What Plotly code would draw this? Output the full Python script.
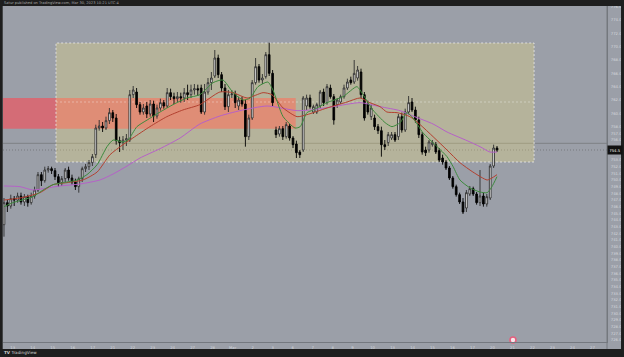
import plotly.graph_objects as go

# ---------------- data ----------------
opens = [743.3, 746.6, 746.1, 747.2, 747.0, 747.6, 746.7, 747.5, 746.6, 747.6,
         748.5, 750.8, 749.9, 751.5, 751.7, 751.4, 750.5, 749.6, 750.2, 751.5,
         750.3, 749.7, 749.0, 750.2, 751.7, 752.0, 752.6, 753.8, 757.8, 758.1,
         757.8, 758.9, 760.1, 759.3, 755.9, 755.6, 756.0, 756.0, 762.8, 763.2,
         761.3, 760.2, 761.1, 759.9, 761.4, 759.6, 760.8, 761.6, 761.1, 763.1,
         762.5, 762.2, 762.5, 762.3, 763.1, 762.8, 763.5, 763.7, 763.8, 760.2,
         763.2, 764.6, 765.6, 768.3, 765.8, 763.8, 761.0, 762.8, 762.9, 761.1,
         762.0, 761.4, 756.5, 759.3, 764.6, 767.0, 765.0, 765.5, 768.8, 766.0,
         757.5, 756.9, 757.7, 756.5, 758.1, 756.3, 755.4, 754.2, 754.5, 761.1,
         762.3, 760.2, 760.2, 761.1, 763.2, 761.6, 763.8, 762.5, 761.3, 761.7,
         762.5, 763.8, 765.0, 764.7, 765.3, 766.2, 762.8, 761.4, 759.5, 759.3,
         758.0, 757.4, 755.3, 755.6, 756.3, 756.8, 756.5, 759.5, 757.5, 760.2,
         761.7, 760.5, 759.0, 756.8, 754.5, 754.5, 755.3, 755.3, 754.4, 753.3,
         752.7, 751.8, 750.3, 749.0, 747.8, 746.7, 745.8, 747.9, 748.7, 747.9,
         746.6, 747.6, 746.4, 747.3, 752.1, 754.8]
highs = [747.3, 747.0, 747.8, 747.6, 748.1, 748.1, 747.9, 747.8, 748.1, 749.0,
         751.2, 751.2, 752.0, 752.1, 752.0, 751.8, 750.9, 750.6, 751.8, 752.0,
         750.8, 750.2, 750.5, 752.0, 752.4, 753.0, 753.9, 758.3, 759.0, 758.7,
         759.5, 760.8, 760.5, 759.9, 756.5, 756.6, 756.9, 763.5, 764.1, 763.8,
         761.7, 761.4, 761.7, 762.0, 761.9, 761.3, 762.2, 762.0, 763.8, 763.7,
         763.1, 763.2, 763.1, 763.8, 764.3, 764.3, 764.4, 764.3, 764.3, 764.4,
         765.3, 766.2, 769.5, 768.8, 766.2, 764.4, 763.5, 763.5, 763.4, 762.5,
         762.5, 762.0, 759.8, 765.0, 768.3, 767.4, 765.9, 769.2, 770.6, 766.5,
         758.0, 758.1, 758.1, 758.7, 758.4, 756.6, 755.9, 754.5, 762.6, 762.8,
         762.8, 761.3, 761.6, 763.5, 763.7, 764.4, 764.3, 762.9, 762.3, 762.8,
         764.3, 765.2, 765.5, 768.0, 767.1, 766.7, 763.2, 761.9, 761.3, 759.8,
         758.4, 758.0, 756.0, 757.2, 757.2, 757.2, 759.9, 760.1, 760.7, 762.6,
         762.3, 761.0, 759.5, 757.2, 755.0, 756.0, 756.0, 755.7, 754.8, 753.8,
         753.0, 752.1, 750.6, 749.3, 748.1, 747.3, 748.5, 749.1, 749.0, 748.2,
         751.5, 748.1, 747.9, 752.4, 755.3, 755.1]
lows = [741.5, 745.2, 745.7, 746.1, 746.6, 746.3, 746.1, 746.0, 746.3, 747.2,
        748.2, 749.1, 749.6, 751.1, 750.9, 750.0, 749.0, 749.1, 749.7, 749.9,
        749.3, 748.5, 748.1, 749.7, 751.2, 751.5, 752.1, 753.3, 757.4, 757.2,
        757.5, 758.4, 758.7, 755.3, 754.2, 754.5, 755.1, 755.7, 762.3, 760.8,
        759.8, 759.8, 759.3, 759.5, 758.7, 759.2, 760.4, 760.7, 760.8, 762.0,
        761.4, 761.7, 761.6, 761.7, 762.0, 762.3, 762.8, 762.6, 759.9, 759.8,
        762.8, 763.5, 765.3, 765.3, 763.2, 760.5, 760.2, 762.3, 760.8, 760.5,
        761.0, 755.0, 756.0, 759.0, 764.3, 764.6, 764.4, 765.2, 765.6, 761.1,
        756.3, 756.5, 756.0, 756.2, 755.9, 754.8, 753.3, 753.3, 754.2, 760.5,
        760.7, 759.9, 759.9, 760.8, 761.1, 761.3, 762.2, 758.3, 760.8, 761.4,
        762.2, 763.5, 764.3, 764.4, 764.9, 762.3, 758.9, 759.8, 759.0, 757.5,
        756.9, 753.5, 754.5, 755.1, 756.0, 755.7, 756.0, 757.1, 757.2, 759.8,
        760.2, 758.6, 756.3, 753.8, 753.6, 754.1, 755.0, 753.9, 752.7, 752.3,
        751.5, 750.0, 748.7, 747.5, 746.4, 744.9, 745.2, 747.6, 747.6, 746.3,
        746.1, 746.0, 746.0, 747.0, 751.8, 754.2]
closes = [746.6, 746.1, 747.2, 747.0, 747.6, 746.7, 747.5, 746.6, 747.6, 748.5,
          750.8, 749.9, 751.5, 751.7, 751.4, 750.5, 749.6, 750.2, 751.5, 750.3,
          749.7, 749.0, 750.2, 751.7, 752.0, 752.6, 753.5, 757.8, 758.1, 757.8,
          758.9, 760.1, 759.3, 755.9, 755.6, 756.0, 756.2, 762.8, 763.5, 761.3,
          760.2, 760.8, 759.9, 761.4, 759.6, 760.8, 761.6, 761.1, 763.1, 762.5,
          762.2, 762.5, 762.3, 763.1, 762.8, 763.5, 763.7, 763.5, 760.2, 763.2,
          764.6, 765.3, 768.3, 765.8, 763.8, 761.0, 762.8, 762.9, 761.6, 762.0,
          761.4, 756.5, 759.3, 764.6, 767.0, 765.0, 765.3, 768.8, 766.0, 761.6,
          756.8, 757.7, 756.5, 758.3, 756.3, 755.3, 754.1, 753.8, 762.3, 762.3,
          761.0, 761.0, 761.3, 763.2, 761.6, 764.0, 762.5, 759.0, 762.0, 762.5,
          763.8, 764.7, 764.6, 766.0, 766.5, 762.8, 759.3, 760.2, 760.8, 758.0,
          757.4, 755.3, 755.0, 756.8, 756.8, 756.0, 759.5, 757.5, 760.2, 761.6,
          760.5, 759.0, 756.8, 754.2, 754.1, 755.7, 755.6, 754.2, 753.0, 752.7,
          751.8, 750.3, 749.0, 747.8, 746.7, 745.2, 748.1, 748.7, 747.9, 746.6,
          747.6, 746.4, 747.5, 752.1, 754.8, 754.5]
bars = list(range(len(closes)))

# moving averages (bar index, price)
fast_ma_bar = [0, 2.6, 8.5, 11.5, 14.4, 17.4, 21.5, 24.4, 27.4, 30.3, 32.1, 35.0, 36.5,
               39.1, 42.1, 45.9, 49.7, 53.8, 57.6, 61.5, 64.4, 67.4, 70.3, 72.4, 74.7,
               77.6, 79.1, 82.1, 85.6, 87.1, 89.1, 90.9, 95.0, 99.7, 103.8, 105.6,
               108.5, 112.1, 114.1, 116.5, 118.5, 120.3, 123.2, 127.4, 130.3, 132.1,
               134.1, 137.1, 140.0, 142.1, 143.5, 145.0]
fast_ma = [746.0, 746.6, 747.5, 748.5, 749.3, 749.6, 750.0, 750.8, 752.3, 755.0, 756.0,
           755.7, 756.0, 758.0, 759.0, 760.2, 761.3, 762.3, 762.8, 764.6, 765.0, 763.1,
           762.0, 762.3, 764.0, 764.7, 763.5, 759.5, 757.8, 758.0, 760.1, 760.5, 761.6,
           762.5, 764.0, 762.8, 760.5, 758.6, 758.0, 758.6, 760.1, 759.3, 757.1, 755.0,
           753.5, 752.0, 750.0, 748.8, 748.2, 748.1, 749.0, 750.5]
mid_ma_bar = [0, 4.7, 10.6, 14.4, 18.5, 23.2, 27.4, 31.2, 35.0, 37.9, 42.9, 47.9, 52.6,
              57.6, 63.5, 67.4, 71.5, 76.2, 78.8, 82.1, 86.2, 89.1, 95.0, 100.9, 104.7,
              107.6, 110.6, 112.6, 115.6, 119.4, 122.4, 126.2, 130.3, 134.1, 137.9,
              142.1, 143.5, 145.0]
mid_ma = [747.0, 747.3, 748.1, 749.3, 749.6, 750.0, 751.2, 753.8, 755.3, 756.3, 758.0,
          759.5, 760.5, 761.3, 763.2, 763.1, 762.3, 763.1, 762.8, 760.8, 759.5, 759.8,
          760.8, 761.7, 762.3, 761.6, 761.0, 760.2, 760.1, 759.5, 758.3, 756.5, 754.5,
          752.6, 751.2, 750.0, 750.3, 750.8]
slow_ma_bar = [0, 4.7, 8.5, 12.6, 16.5, 22.4, 28.2, 32.1, 36.2, 40.0, 45.9, 51.8, 57.6,
               63.5, 69.4, 77.4, 86.2, 90.0, 96.8, 104.7, 110.6, 116.5, 120.3, 126.2,
               130.3, 136.2, 140.0, 142.9, 145.0]
slow_ma = [749.1, 749.0, 748.5, 748.8, 749.1, 749.4, 750.0, 750.9, 752.1, 753.3, 754.7,
           756.3, 758.4, 759.6, 760.4, 761.1, 760.4, 760.5, 761.0, 761.6, 761.0, 760.4,
           759.6, 758.4, 757.2, 755.9, 755.0, 754.2, 754.2]

# drawings (levels / bar spans)
range_box_start, range_box_end = 15.3, 155.9
range_box_top, range_box_bottom = 770.55, 752.7
zone_end, zone_top, zone_bottom = 85.8, 762.3, 757.7
box_mid_level = 761.7
flat_level = 755.5
event_bar = [149.7]
event_price = [726.0]

price_ticks = [776, 774, 772, 770, 768, 766, 764, 762, 760, 758, 757, 756,
               753, 752, 751, 750, 749, 748, 747, 746, 745, 744, 743, 742, 741,
               740, 739, 738, 737, 736, 735, 734, 733, 732, 731, 730, 729, 728, 727, 726]
day_labels = ["13", "14", "15", "16", "17", "21", "22", "23", "24", "27", "28", "Mar",
              "2", "3", "6", "7", "8", "9", "10", "13", "14", "15", "16", "17",
              "20", "21", "22", "23", "24", "27"]
first_day_bar = 2.56
bars_per_day = 5.88

header = "Satur published on TradingView.com, Mar 30, 2023 10:21 UTC-4"

# ---------------- styling ----------------
BG = "#9b9fa8"
DARK = "#1e1e1e"
AXIS_LINE = "#74787f"
TXT = "#d6d9de"
FONT = "DejaVu Sans"
x_range = [-0.29, 177.35]
y_range = [725.7, 776.1]

fig = go.Figure()

for bx, vals, col in [(slow_ma_bar, slow_ma, "#b660c8"),
                      (mid_ma_bar, mid_ma, "#b3402f"),
                      (fast_ma_bar, fast_ma, "#3c8a3c")]:
    fig.add_trace(go.Scatter(x=bx, y=vals, mode="lines",
                             line=dict(color=col, width=1, shape="spline", smoothing=0.6),
                             hoverinfo="skip", showlegend=False))

fig.add_trace(go.Candlestick(
    x=bars, open=opens, high=highs, low=lows, close=closes,
    increasing=dict(fillcolor="#ffffff", line=dict(color="#2e2e2e", width=0.9)),
    decreasing=dict(fillcolor="#000000", line=dict(color="#000000", width=0.9)),
    whiskerwidth=0, hoverinfo="skip", showlegend=False))

fig.add_trace(go.Scatter(x=event_bar, y=event_price, mode="markers",
                         marker=dict(size=6, color="#f4e6ea",
                                     line=dict(color="#e3607e", width=1.6)),
                         cliponaxis=False, hoverinfo="skip", showlegend=False))

shapes = [
    dict(type="rect", xref="x", yref="y", x0=x_range[0], x1=zone_end,
         y0=zone_bottom, y1=zone_top, fillcolor="rgba(255,70,81,0.57)",
         line=dict(width=0), layer="below"),
    dict(type="rect", xref="x", yref="y", x0=range_box_start, x1=range_box_end,
         y0=range_box_bottom, y1=range_box_top, fillcolor="rgba(255,236,121,0.26)",
         line=dict(color="rgba(230,230,230,0.85)", width=1, dash="2px,2px"), layer="below"),
    dict(type="line", xref="x", yref="y", x0=range_box_start, x1=range_box_end,
         y0=box_mid_level, y1=box_mid_level,
         line=dict(color="rgba(255,255,255,0.35)", width=1, dash="2px,2px"), layer="below"),
    dict(type="line", xref="paper", yref="y", x0=0, x1=1, y0=flat_level, y1=flat_level,
         line=dict(color="rgba(100,100,100,0.5)", width=1), layer="below"),
    dict(type="line", xref="paper", yref="y", x0=0, x1=1, y0=closes[-1], y1=closes[-1],
         line=dict(color="rgba(85,85,85,0.5)", width=1, dash="1px,2px"), layer="below"),
    # frame
    dict(type="line", xref="paper", yref="paper", x0=1, x1=1, y0=1, y1=-0.0208,
         line=dict(color=AXIS_LINE, width=1)),
    dict(type="rect", xref="paper", yref="paper", x0=-0.02, x1=1.05, y0=1.0, y1=1.06,
         fillcolor=DARK, line=dict(width=0)),
    dict(type="rect", xref="paper", yref="paper", x0=-0.02, x1=1.05, y0=-0.0208, y1=-0.07,
         fillcolor=DARK, line=dict(width=0)),
    dict(type="rect", xref="paper", yref="paper", x0=-0.02, x1=-0.0005, y0=-0.07, y1=1.06,
         fillcolor=DARK, line=dict(width=0)),
    dict(type="rect", xref="paper", yref="paper", x0=1.0232, x1=1.05, y0=-0.07, y1=1.06,
         fillcolor=DARK, line=dict(width=0)),
]

annotations = [
    dict(xref="paper", yref="paper", x=-0.0017, y=1.0089, xanchor="left", yanchor="middle",
         text=header, showarrow=False, font=dict(size=3.6, color="#a4a4a4", family=FONT)),
    dict(xref="paper", yref="paper", x=-0.0017, y=-0.0312, xanchor="left", yanchor="middle",
         text="<b>TV</b> TradingView", showarrow=False,
         font=dict(size=4.2, color="#d2d2d2", family=FONT)),
    dict(xref="paper", yref="y", x=1.0, y=closes[-1], xanchor="left", yanchor="middle",
         text=f"{closes[-1]:.1f}", showarrow=False, bgcolor="#111111", borderpad=1.5,
         width=11, font=dict(size=3.8, color="#ffffff", family=FONT)),
]

tick_bars = [first_day_bar + bars_per_day * k for k in range(len(day_labels))]

fig.update_layout(
    width=624, height=357,
    margin=dict(l=3, r=17, t=6, b=15),
    paper_bgcolor=BG, plot_bgcolor=BG,
    font=dict(family=FONT, size=3.8, color=TXT),
    shapes=shapes, annotations=annotations,
    showlegend=False, hovermode=False,
    xaxis=dict(range=x_range, tickvals=tick_bars, ticktext=day_labels,
               showgrid=False, zeroline=False, showline=True, linecolor=AXIS_LINE,
               linewidth=1, ticks="", ticklabelstandoff=1,
               tickfont=dict(size=3.8, color=TXT, family=FONT),
               rangeslider=dict(visible=False), fixedrange=True),
    yaxis=dict(range=y_range, side="right", tickvals=price_ticks, tickformat=".1f",
               showgrid=False, zeroline=False, showline=True, linecolor=AXIS_LINE,
               linewidth=1, ticks="", ticklabelstandoff=2,
               tickfont=dict(size=3.8, color=TXT, family=FONT), fixedrange=True),
)

fig.write_html("out.html")
